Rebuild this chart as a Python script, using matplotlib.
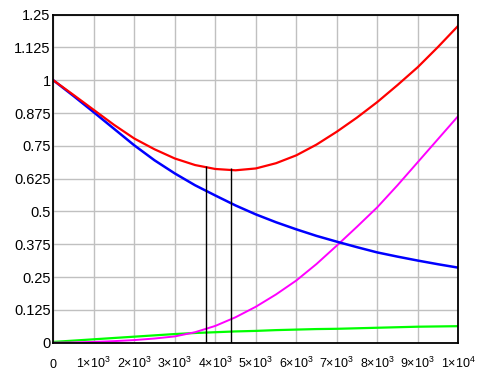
import numpy as np
import matplotlib
matplotlib.use('Agg')
import matplotlib.pyplot as plt

# values
x = [0, 500, 1000, 1500, 2000, 2500, 3000, 3500, 4000, 4500, 5000,
     5500, 6000, 6500, 7000, 7500, 8000, 8500, 9000, 9500, 10000]
blue = [1.0, 0.94, 0.878, 0.815, 0.752, 0.695, 0.645, 0.600, 0.561, 0.523, 0.489,
        0.459, 0.432, 0.407, 0.385, 0.364, 0.344, 0.328, 0.313, 0.299, 0.286]
magenta = [0.0, 0.001, 0.003, 0.006, 0.010, 0.016, 0.024, 0.040, 0.064, 0.097, 0.137,
           0.184, 0.237, 0.300, 0.370, 0.442, 0.516, 0.600, 0.688, 0.776, 0.864]
green = [0.003, 0.008, 0.013, 0.018, 0.023, 0.028, 0.033, 0.037, 0.040, 0.043, 0.045,
         0.048, 0.050, 0.052, 0.053, 0.055, 0.057, 0.059, 0.061, 0.062, 0.063]
red = [1.0, 0.944, 0.887, 0.830, 0.778, 0.737, 0.702, 0.677, 0.662, 0.657, 0.664,
       0.684, 0.714, 0.755, 0.804, 0.858, 0.917, 0.982, 1.050, 1.127, 1.208]
marker_x = [3763, 4390]
marker_top = [0.674, 0.664]

xticks = [0, 1000, 2000, 3000, 4000, 5000, 6000, 7000, 8000, 9000, 10000]
xticklabels = ['0'] + ['%d\u00d710$^{3}$' % i for i in range(1, 10)] + ['1\u00d710$^{4}$']
yticks = [0, 0.125, 0.25, 0.375, 0.5, 0.625, 0.75, 0.875, 1, 1.125, 1.25]
yticklabels = ['0', '0.125', '0.25', '0.375', '0.5', '0.625', '0.75', '0.875', '1', '1.125', '1.25']

plt.rcParams['font.family'] = 'Liberation Sans'
plt.rcParams['mathtext.default'] = 'regular'

fig = plt.figure(figsize=(4.87, 3.81), dpi=100)
ax = fig.add_axes([0.1095, 0.1005, 0.8315, 0.861])

ax.plot(x, green, color='#00ff00', lw=1.6)
ax.plot(x, magenta, color='#ff00ff', lw=1.4)
ax.plot(x, blue, color='#0000ff', lw=1.8, solid_joinstyle='round')
ax.plot(x, red, color='#ff0000', lw=1.6, solid_joinstyle='round')
ax.vlines(marker_x, 0, marker_top, color='black', lw=1)

ax.set_xlim(0, 10000)
ax.set_ylim(0, 1.25)
ax.tick_params(length=0)
ax.tick_params(axis='y', pad=2, labelsize=10.5)
ax.tick_params(axis='x', pad=18, labelsize=9)
ax.set_xticks(xticks)
ax.set_xticklabels(xticklabels, va='baseline')
ax.set_yticks(yticks)
ax.set_yticklabels(yticklabels)
ax.grid(True, color='#c0c0c0', lw=1)
ax.set_axisbelow(True)
for s in ax.spines.values():
    s.set_linewidth(1.3)

fig.savefig('out.png', dpi=100)
